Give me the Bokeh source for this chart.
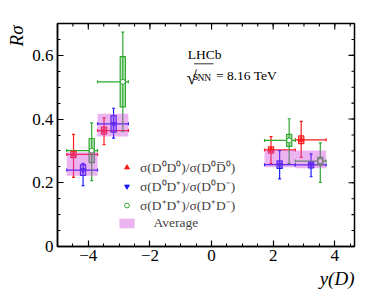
import numpy as np
from bokeh.plotting import figure
from bokeh.models import (Range1d, FixedTicker, Whisker, TeeHead, Title,
                          ColumnDataSource, Legend, LegendItem, Label)
from bokeh.embed import file_html
from bokeh.resources import INLINE

# ---------------- data ----------------
bin_lo = [-4.7, -3.7, 1.72, 2.72]
bin_hi = [-3.7, -2.7, 2.72, 3.72]

red_x = [-4.48, -3.49, 1.93, 2.91]
red_y = [0.289, 0.364, 0.303, 0.335]
red_up = [0.063, 0.040, 0.042, 0.058]
red_dn = [0.072, 0.044, 0.042, 0.055]
red_sys = [0.010, 0.011, 0.010, 0.012]

blue_x = [-4.17, -3.18, 2.21, 3.23]
blue_y = [0.240, 0.385, 0.257, 0.256]
blue_up = [0.021, 0.049, 0.044, 0.035]
blue_dn = [0.049, 0.045, 0.045, 0.037]
blue_sys = [0.017, 0.026, 0.012, 0.009]

green_x = [-3.89, -2.88, 2.52, 3.53]
green_y = [0.301, 0.517, 0.333, 0.268]
green_up = [0.087, 0.156, 0.068, 0.057]
green_dn = [0.094, 0.156, 0.072, 0.067]
green_sys = [0.038, 0.079, 0.019, 0.012]

avg_lo = [0.222, 0.345, 0.249, 0.246]
avg_hi = [0.296, 0.417, 0.303, 0.301]

x_major = [-4, -2, 0, 2, 4]
y_major = [0, 0.2, 0.4, 0.6]
x_minor = list(np.round(np.arange(-5, 4.7, 0.5), 3))
y_minor = list(np.round(np.arange(0, 0.701, 0.05), 3))
x_labels = {-4: "\u22124", -2: "\u22122", 0: "0", 2: "2", 4: "4"}
y_labels = {0: "0", 0.2: "0.2", 0.4: "0.4", 0.6: "0.6"}

labels = ["\u03c3(D\u2070D\u2070)/\u03c3(D\u2070D\u0305\u2070)",
          "\u03c3(D\u2070D\u207a)/\u03c3(D\u2070D\u207b)",
          "\u03c3(D\u207aD\u207a)/\u03c3(D\u207aD\u207b)",
          "\u00a0\u00a0\u00a0\u00a0Average"]

RED = "#ff1a1a"
BLUE = "#1a1aff"
GREEN = "#2ea82e"
MAG = "#cc44dd"
FONT = "Liberation Serif"

XMIN, XMAX, YMIN, YMAX = -5.0, 4.64, 0.0, 0.70
FX0, FX1, FY0, FY1 = 57, 354, 23, 246   # frame edges in page pixels

p = figure(width=374, height=297, x_range=Range1d(XMIN, XMAX), y_range=Range1d(YMIN, YMAX),
           output_backend="svg", toolbar_location=None,
           min_border_left=FX0, min_border_right=374 - FX1, min_border_top=FY0,
           min_border_bottom=297 - FY1)
p.xgrid.visible = False
p.ygrid.visible = False
p.outline_line_color = "black"
p.outline_line_width = 1.5
p.background_fill_color = "white"
p.border_fill_color = "white"

xt = FixedTicker(ticks=x_major, minor_ticks=x_minor)
yt = FixedTicker(ticks=y_major, minor_ticks=y_minor)

for ax in (p.xaxis[0], p.yaxis[0]):
    ax.major_tick_in = 6
    ax.major_tick_out = 0
    ax.minor_tick_in = 3
    ax.minor_tick_out = 0
    ax.axis_line_width = 1.5
    ax.axis_line_color = "black"
    ax.major_tick_line_color = "black"
    ax.minor_tick_line_color = "black"
    ax.major_tick_line_width = 1.2
    ax.minor_tick_line_width = 1
    ax.axis_label = None
    ax.major_label_text_font = FONT
    ax.major_label_text_font_size = "17px"
    ax.major_label_text_color = "black"
p.xaxis.ticker = xt
p.yaxis.ticker = yt
p.xaxis.major_label_overrides = x_labels
p.yaxis.major_label_overrides = y_labels
p.xaxis.major_label_standoff = 3
p.yaxis.major_label_standoff = 4

# axis titles (side panels, so they are not clipped by the frame)
p.add_layout(Title(text="R\u03c3", align="right", offset=2, standoff=5, text_font=FONT,
                   text_font_size="19px", text_font_style="italic", text_color="black"), "left")
p.add_layout(Title(text="y(D)", align="right", offset=0, standoff=5, text_font=FONT,
                   text_font_size="19px", text_font_style="italic", text_color="black"), "below")

# ticks on the top and right frame edges (no labels)
px_x = (XMAX - XMIN) / (FX1 - FX0)
px_y = (YMAX - YMIN) / (FY1 - FY0)
for ticks, ln in ((x_major, 6), (x_minor, 3)):
    p.segment(x0=ticks, x1=ticks, y0=[YMAX] * len(ticks), y1=[YMAX - ln * px_y] * len(ticks),
              line_color="black", line_width=1.1)
for ticks, ln in ((y_major, 6), (y_minor, 3)):
    p.segment(x0=[XMAX] * len(ticks), x1=[XMAX - ln * px_x] * len(ticks), y0=ticks, y1=ticks,
              line_color="black", line_width=1.1)

BOXW = 0.17


def series(xs, ys, up, dn, sys, color, marker, fill):
    src = ColumnDataSource(dict(
        x=xs, y=ys,
        lo=[a - b for a, b in zip(ys, dn)], hi=[a + b for a, b in zip(ys, up)],
        blo=bin_lo, bhi=bin_hi, h=[2 * s for s in sys]))
    p.add_layout(Whisker(source=src, base="x", lower="lo", upper="hi", line_color=color, line_width=1.2,
                         upper_head=TeeHead(size=3, line_color=color, line_width=1.2),
                         lower_head=TeeHead(size=3, line_color=color, line_width=1.2)))
    p.add_layout(Whisker(source=src, base="y", lower="blo", upper="bhi", dimension="width",
                         line_color=color, line_width=1.2,
                         upper_head=TeeHead(size=3, line_color=color, line_width=1.2),
                         lower_head=TeeHead(size=3, line_color=color, line_width=1.2)))
    p.rect(x="x", y="y", width=BOXW, height="h", source=src, fill_color=color, fill_alpha=0.3,
           line_color=color, line_width=1.2)
    r = p.scatter(x="x", y="y", source=src, marker=marker, size=5, line_color=color,
                  fill_color=fill, line_width=1)
    return r


r_red = series(red_x, red_y, red_up, red_dn, red_sys, RED, "triangle", RED)
r_blue = series(blue_x, blue_y, blue_up, blue_dn, blue_sys, BLUE, "inverted_triangle", BLUE)
r_green = series(green_x, green_y, green_up, green_dn, green_sys, GREEN, "circle", "white")

r_avg = p.quad(left=bin_lo, right=bin_hi, bottom=avg_lo, top=avg_hi, fill_color=MAG,
               fill_alpha=0.4, line_color=None)

legend = Legend(items=[LegendItem(label=labels[0], renderers=[r_red]),
                       LegendItem(label=labels[1], renderers=[r_blue]),
                       LegendItem(label=labels[2], renderers=[r_green]),
                       LegendItem(label=labels[3], renderers=[r_avg])],
                location=(60, 15), padding=0, margin=0, spacing=1,
                glyph_width=19, glyph_height=12, label_height=15, label_standoff=4,
                label_text_font=FONT, label_text_font_size="13.5px",
                border_line_color=None, background_fill_alpha=0)
p.add_layout(legend)


# ---------- text inside the frame (positions in page pixels, converted to data) ----------
def xd(px):
    return XMIN + (px - FX0) * px_x


def yd(py):
    return YMIN + (FY1 - py) * px_y


def lab(px, py, text, size, **kw):
    p.add_layout(Label(x=xd(px), y=yd(py), text=text, text_font=FONT, text_font_size=size,
                       text_color="black", text_baseline="alphabetic", **kw))


lab(187.3, 54, "LHCb", "13.5px")
lab(186.0, 77, "\u221a", "19px")
lab(192.5, 74.5, "s", "13.5px")
lab(197.0, 77.5, "NN", "9.5px")
lab(215.5, 74.5, "= 8.16 TeV", "13.5px")
p.segment(x0=[xd(193.5)], y0=[yd(63.3)], x1=[xd(213)], y1=[yd(63.3)], line_color="black", line_width=0.8)

open("out.html", "w").write(file_html(p, INLINE))
